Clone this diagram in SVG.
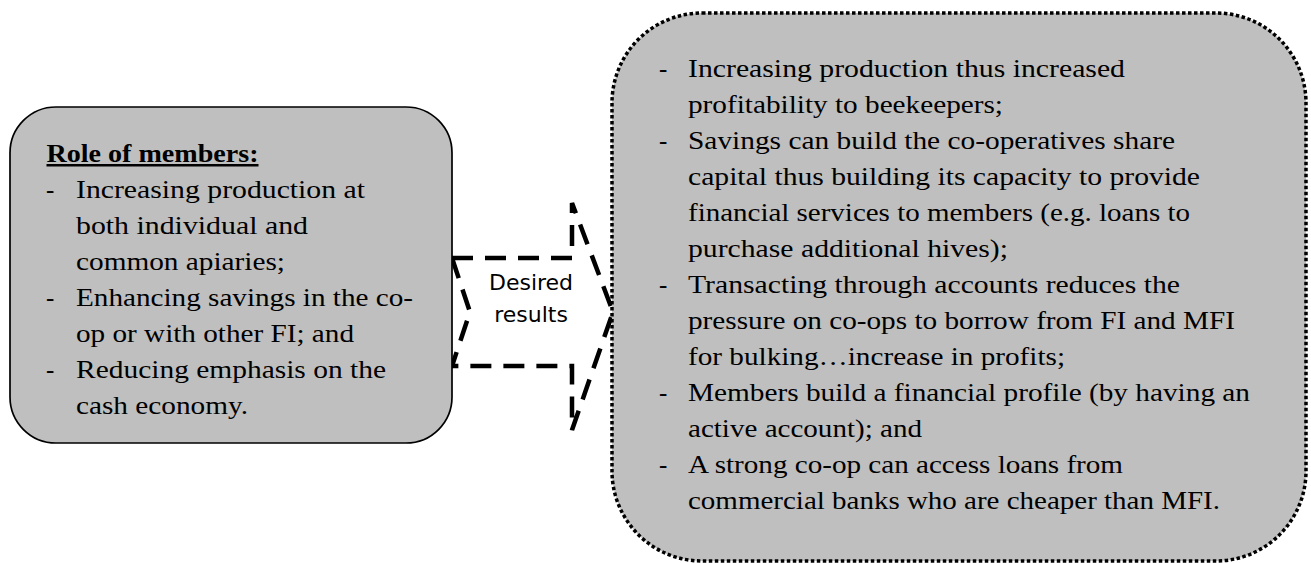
<svg xmlns="http://www.w3.org/2000/svg" width="1311" height="563" viewBox="0 0 1311 563">
  <style>
    .body { font-family: "Liberation Serif", "Times New Roman", serif; font-size: 25px; fill: #000; }
    .head { font-weight: bold; text-decoration: underline; }
    .label { font-family: "DejaVu Sans", Verdana, sans-serif; font-size: 22px; fill: #000; text-anchor: middle; }
    .box-solid { fill: #bfbfbf; stroke: #000; stroke-width: 1.7; }
    .box-dotted { fill: #bfbfbf; stroke: #000; stroke-width: 3.5; stroke-dasharray: 3.5 2.5; }
    .block-arrow { fill: #fff; stroke: #000; stroke-width: 4.5; stroke-dasharray: 21 12; stroke-linejoin: miter; }
  </style>

  <rect width="1311" height="563" fill="#fff"/>

  <!-- notched block arrow between the two boxes -->
  <g id="connectors">
    <g id="arrow-desired-results">
      <path class="block-arrow" d="M452,258 L572,258 L572,203 L613,312 L572,430 L572,366 L452,366 L470,312 Z"/>
      <text class="label" x="531" y="290">Desired</text>
      <text class="label" x="531" y="322">results</text>
    </g>
  </g>

  <!-- left box: role of members -->
  <g id="role-of-members">
    <rect class="box-solid" x="10" y="107" width="442" height="336" rx="46" ry="46"/>
    <text class="body head" x="46.5" y="162" textLength="212" lengthAdjust="spacingAndGlyphs">Role of members:</text>
    <text class="body" x="46" y="198">-</text>
    <text class="body" x="76" y="198" textLength="289" lengthAdjust="spacingAndGlyphs">Increasing production at</text>
    <text class="body" x="76" y="234" textLength="232" lengthAdjust="spacingAndGlyphs">both individual and</text>
    <text class="body" x="76" y="270" textLength="209" lengthAdjust="spacingAndGlyphs">common apiaries;</text>
    <text class="body" x="46" y="306">-</text>
    <text class="body" x="76" y="306" textLength="337" lengthAdjust="spacingAndGlyphs">Enhancing savings in the co-</text>
    <text class="body" x="76" y="342" textLength="278" lengthAdjust="spacingAndGlyphs">op or with other FI; and</text>
    <text class="body" x="46" y="378">-</text>
    <text class="body" x="76" y="378" textLength="310" lengthAdjust="spacingAndGlyphs">Reducing emphasis on the</text>
    <text class="body" x="76" y="414" textLength="172" lengthAdjust="spacingAndGlyphs">cash economy.</text>
  </g>

  <!-- right box: desired results list -->
  <g id="desired-results-list">
    <rect class="box-dotted" x="612" y="13" width="694" height="548" rx="90" ry="90"/>
    <text class="body" x="659" y="77">-</text>
    <text class="body" x="688" y="77" textLength="437" lengthAdjust="spacingAndGlyphs">Increasing production thus increased</text>
    <text class="body" x="688" y="113" textLength="315" lengthAdjust="spacingAndGlyphs">profitability to beekeepers;</text>
    <text class="body" x="659" y="149">-</text>
    <text class="body" x="688" y="149" textLength="487" lengthAdjust="spacingAndGlyphs">Savings can build the co-operatives share</text>
    <text class="body" x="688" y="185" textLength="512" lengthAdjust="spacingAndGlyphs">capital thus building its capacity to provide</text>
    <text class="body" x="688" y="221" textLength="502" lengthAdjust="spacingAndGlyphs">financial services to members (e.g. loans to</text>
    <text class="body" x="688" y="257" textLength="320" lengthAdjust="spacingAndGlyphs">purchase additional hives);</text>
    <text class="body" x="659" y="293">-</text>
    <text class="body" x="688" y="293" textLength="492" lengthAdjust="spacingAndGlyphs">Transacting through accounts reduces the</text>
    <text class="body" x="688" y="329" textLength="547" lengthAdjust="spacingAndGlyphs">pressure on co-ops to borrow from FI and MFI</text>
    <text class="body" x="688" y="365" textLength="377" lengthAdjust="spacingAndGlyphs">for bulking…increase in profits;</text>
    <text class="body" x="659" y="401">-</text>
    <text class="body" x="688" y="401" textLength="562" lengthAdjust="spacingAndGlyphs">Members build a financial profile (by having an</text>
    <text class="body" x="688" y="437" textLength="234" lengthAdjust="spacingAndGlyphs">active account); and</text>
    <text class="body" x="659" y="473">-</text>
    <text class="body" x="688" y="473" textLength="435" lengthAdjust="spacingAndGlyphs">A strong co-op can access loans from</text>
    <text class="body" x="688" y="509" textLength="532" lengthAdjust="spacingAndGlyphs">commercial banks who are cheaper than MFI.</text>
  </g>
</svg>
